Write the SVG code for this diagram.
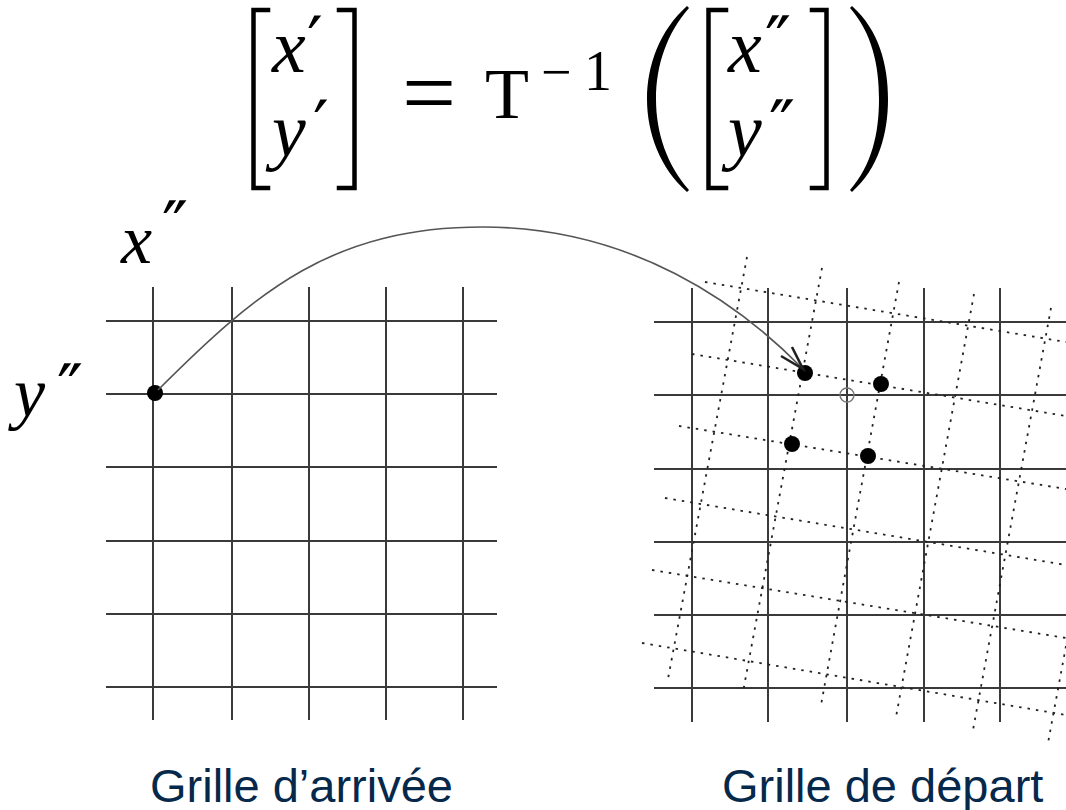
<svg xmlns="http://www.w3.org/2000/svg" width="1066" height="810" viewBox="0 0 1066 810">
<style>
.bg{fill:#ffffff}
.grid{stroke:#3a3a3a;stroke-width:2;fill:none}
.dot{stroke:#222;stroke-width:1.8;stroke-dasharray:2.5 6;fill:none}
.pt{fill:#000}
.mi{font-family:"Liberation Serif","DejaVu Serif",serif;font-style:italic;fill:#000}
.rm{font-family:"Liberation Serif","DejaVu Serif",serif;fill:#000}
.pr{font-family:"DejaVu Serif",serif;font-style:normal;font-size:70px}
.delim{stroke:#000;stroke-width:4.5;fill:none;stroke-linecap:square}
.lbl{font-family:"Liberation Sans",Arial,sans-serif;font-size:47px;fill:#06284b}
.curve{stroke:#555;stroke-width:1.6;fill:none}
</style>
<rect class="bg" x="0" y="0" width="1066" height="810"/>

<g id="formula">
  <path class="delim" d="M268,10 H253.5 V188 H268"/>
  <path class="delim" d="M339,10 H354.5 V188 H339"/>
  <text class="mi" font-size="76"><tspan x="272" y="72">x</tspan><tspan class="pr" x="307" y="66">′</tspan><tspan x="272" y="156">y</tspan><tspan class="pr" x="313" y="150">′</tspan></text>
  <text class="rm" x="402" y="125" font-size="96">=</text>
  <text class="rm" x="485" y="118" font-size="72">T<tspan x="541" y="90" font-size="54">−</tspan><tspan x="584" y="90" font-size="56">1</tspan></text>
  <path fill="#000" d="M687,6 C660,30 647,65 647,99 C647,133 660,168 687,192 L689,190 C667,165 656,133 656,99 C656,65 667,33 689,8 Z"/>
  <path class="delim" d="M726,10 H708.5 V188 H726"/>
  <path class="delim" d="M812,10 H826.5 V188 H812"/>
  <text class="mi" font-size="76"><tspan x="728" y="72">x</tspan><tspan class="pr" x="765" y="66">″</tspan><tspan x="728" y="156">y</tspan><tspan class="pr" x="769" y="150">″</tspan></text>
  <path fill="#000" d="M852,6 C879,30 888,65 888,99 C888,133 879,168 852,192 L850,190 C872,165 879,133 879,99 C879,65 872,33 850,8 Z"/>
</g>

<g id="label-x">
  <text class="mi" x="121" y="263" font-size="70">x<tspan class="pr" x="162" y="251">″</tspan></text>
</g>
<g id="label-y">
  <text class="mi" x="14" y="416" font-size="70">y<tspan class="pr" x="57" y="414">″</tspan></text>
</g>

<g id="grille-arrivee">
  <g class="grid">
    <line x1="106" y1="321" x2="497" y2="321"/>
    <line x1="106" y1="394" x2="497" y2="394"/>
    <line x1="106" y1="467" x2="497" y2="467"/>
    <line x1="106" y1="541" x2="497" y2="541"/>
    <line x1="106" y1="614" x2="497" y2="614"/>
    <line x1="106" y1="687" x2="497" y2="687"/>
    <line x1="153" y1="287" x2="153" y2="720"/>
    <line x1="232" y1="287" x2="232" y2="720"/>
    <line x1="309" y1="287" x2="309" y2="720"/>
    <line x1="386" y1="287" x2="386" y2="720"/>
    <line x1="463" y1="287" x2="463" y2="720"/>
  </g>
  <circle class="pt" cx="155" cy="393" r="8"/>
  <text class="lbl" x="150" y="802">Grille d’arrivée</text>
</g>

<g id="grille-depart">
  <g class="grid">
    <line x1="654" y1="322" x2="1066" y2="322"/>
    <line x1="654" y1="395" x2="1066" y2="395"/>
    <line x1="654" y1="469" x2="1066" y2="469"/>
    <line x1="654" y1="542" x2="1066" y2="542"/>
    <line x1="654" y1="615" x2="1066" y2="615"/>
    <line x1="654" y1="688" x2="1066" y2="688"/>
    <line x1="692" y1="288" x2="692" y2="722"/>
    <line x1="768" y1="288" x2="768" y2="722"/>
    <line x1="847" y1="288" x2="847" y2="722"/>
    <line x1="924" y1="288" x2="924" y2="722"/>
    <line x1="1000" y1="288" x2="1000" y2="722"/>
  </g>
  <g class="dot">
    <line x1="705" y1="282" x2="1066" y2="342"/>
    <line x1="692" y1="354" x2="1066" y2="416"/>
    <line x1="679" y1="426" x2="1066" y2="489"/>
    <line x1="665" y1="498" x2="1066" y2="565"/>
    <line x1="652" y1="570" x2="1066" y2="638"/>
    <line x1="642" y1="643" x2="1066" y2="715"/>
    <line x1="747" y1="257" x2="668" y2="679"/>
    <line x1="822" y1="268" x2="743" y2="692"/>
    <line x1="899" y1="282" x2="821" y2="705"/>
    <line x1="974" y1="294" x2="896" y2="717"/>
    <line x1="1051" y1="308" x2="973" y2="730"/>
    <line x1="1066" y1="646" x2="1048" y2="743"/>
  </g>
  <circle class="pt" cx="805" cy="373" r="8"/>
  <circle class="pt" cx="881" cy="384" r="8"/>
  <circle class="pt" cx="792" cy="444" r="8"/>
  <circle class="pt" cx="868" cy="456" r="8"/>
  <circle cx="847" cy="395" r="7" fill="none" stroke="#777" stroke-width="1.4"/>
  <text class="lbl" x="722" y="802">Grille de départ</text>
</g>

<g id="connectors">
  <path class="curve" d="M158,390 C258,290 333,227 483,227 C633,227 740,305 801,367"/>
  <path d="M781,356 L803,369 L792,347" fill="none" stroke="#222" stroke-width="2.6" stroke-linejoin="miter"/>
</g>
</svg>
